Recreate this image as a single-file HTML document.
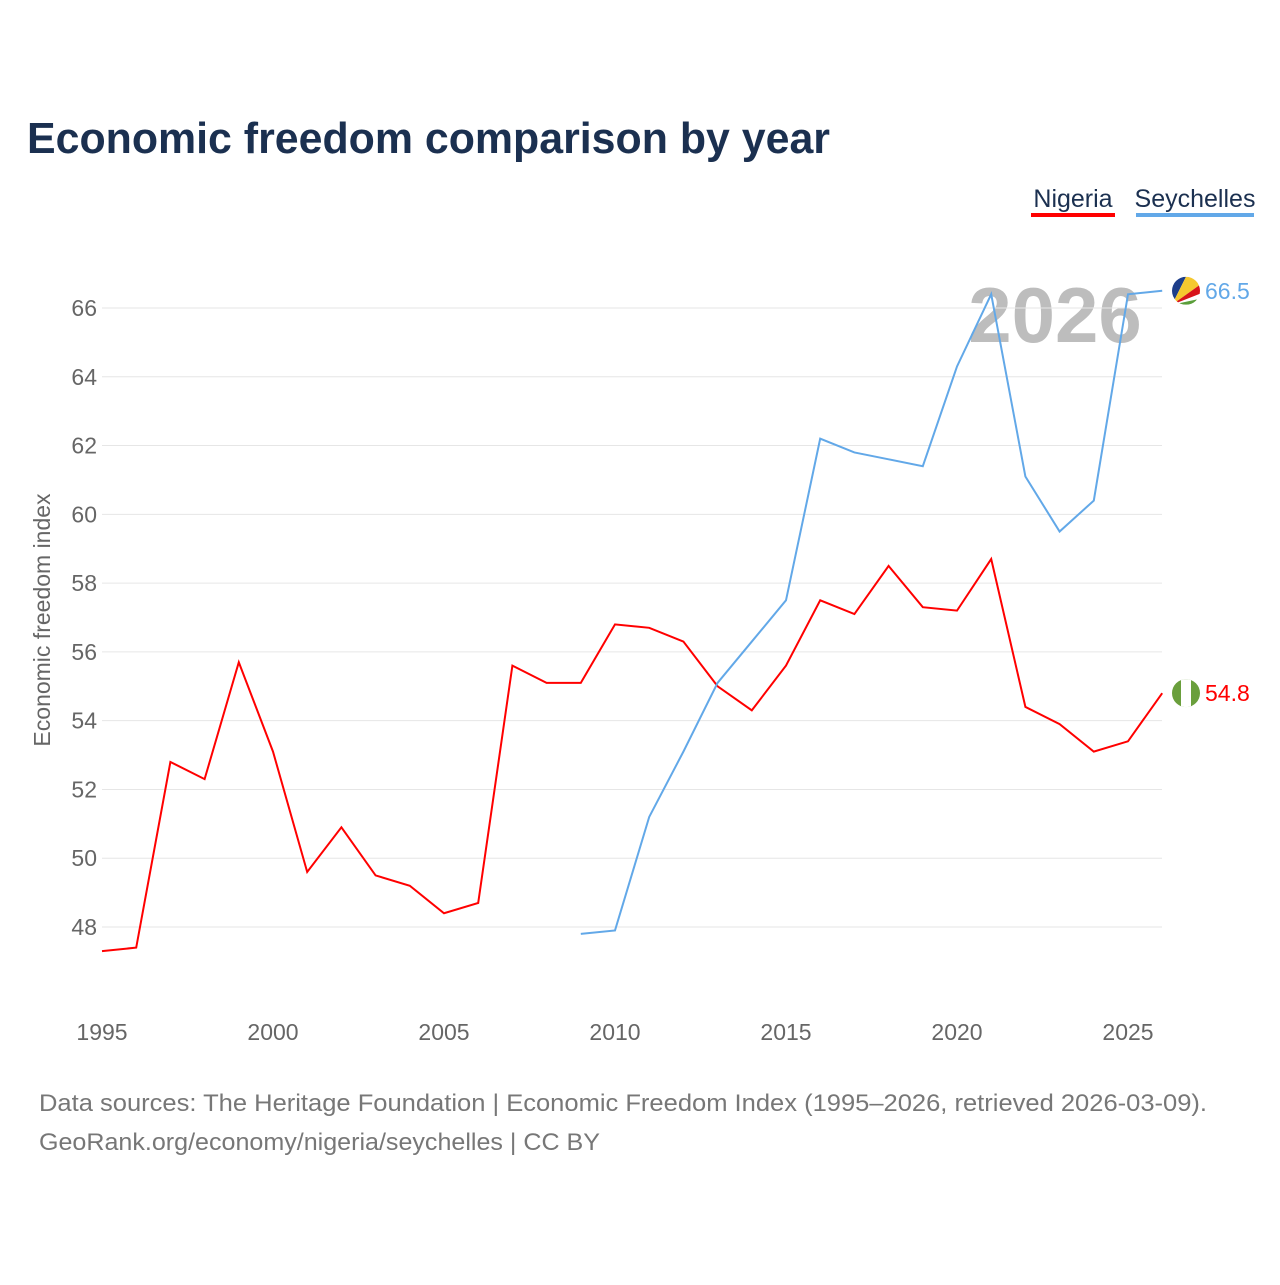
<!DOCTYPE html>
<html><head><meta charset="utf-8"><style>
body{margin:0;background:#fff;font-family:"Liberation Sans",sans-serif}
svg text{font-family:"Liberation Sans",sans-serif}
</style></head><body>
<svg id="chart" width="1280" height="1280" viewBox="0 0 1280 1280" xmlns="http://www.w3.org/2000/svg">
<defs id="defs"></defs>
<rect width="1280" height="1280" fill="#fff"/>
<text x="27" y="153" font-size="44" font-weight="bold" fill="#1b3050" textLength="803" lengthAdjust="spacingAndGlyphs">Economic freedom comparison by year</text>
<g><text x="1073" y="207" font-size="25" fill="#1b3050" text-anchor="middle">Nigeria</text><rect x="1031" y="213" width="84" height="4" fill="#ff0000"/></g>
<g><text x="1195" y="207" font-size="25" fill="#1b3050" text-anchor="middle">Seychelles</text><rect x="1136" y="213" width="118" height="4" fill="#62a8e8"/></g>
<text x="1055" y="342" font-size="78" font-weight="bold" fill="#bdbdbd" text-anchor="middle">2026</text>
<g id="grid"></g><g id="lines"></g>
<text transform="translate(50,620) rotate(-90)" font-size="23" fill="#666" text-anchor="middle">Economic freedom index</text>
<text x="39" y="1111" font-size="24" fill="#777" textLength="1168" lengthAdjust="spacingAndGlyphs">Data sources: The Heritage Foundation | Economic Freedom Index (1995–2026, retrieved 2026-03-09).</text>
<text x="39" y="1150" font-size="24" fill="#777" textLength="561" lengthAdjust="spacingAndGlyphs">GeoRank.org/economy/nigeria/seychelles | CC BY</text>
</svg>
<script>
const years=[1995,1996,1997,1998,1999,2000,2001,2002,2003,2004,2005,2006,2007,2008,2009,2010,2011,2012,2013,2014,2015,2016,2017,2018,2019,2020,2021,2022,2023,2024,2025,2026];
const nigeria=[47.3,47.4,52.8,52.3,55.7,53.1,49.6,50.9,49.5,49.2,48.4,48.7,55.6,55.1,55.1,56.8,56.7,56.3,55.0,54.3,55.6,57.5,57.1,58.5,57.3,57.2,58.7,54.4,53.9,53.1,53.4,54.8];
const seyYears=[2009,2010,2011,2012,2013,2014,2015,2016,2017,2018,2019,2020,2021,2022,2023,2024,2025,2026];
const seychelles=[47.8,47.9,51.2,53.1,55.1,56.3,57.5,62.2,61.8,61.6,61.4,64.3,66.4,61.1,59.5,60.4,66.4,66.5];
const yTicks=[48,50,52,54,56,58,60,62,64,66];
const xTicks=[1995,2000,2005,2010,2015,2020,2025];
const NS="http://www.w3.org/2000/svg";
const x=v=>102+(v-1995)*(1026/30);
const y=v=>308+(66-v)*(619/18);
const grid=document.getElementById('grid'),lines=document.getElementById('lines'),defs=document.getElementById('defs');
function mk(tag,attrs,parent){const e=document.createElementNS(NS,tag);for(const k in attrs)e.setAttribute(k,attrs[k]);parent.appendChild(e);return e;}
yTicks.forEach(t=>{
 const l=mk('line',{x1:102,x2:1162,y1:y(t),y2:y(t),stroke:'#e6e6e6','stroke-width':1},grid);
 
 
 const tx=mk('text',{x:97,y:y(t)+8,'font-size':23,fill:'#666','text-anchor':'end'},grid);tx.textContent=t;
 
 
});
xTicks.forEach(t=>{
 const tx=mk('text',{x:x(t),y:1040,'font-size':23,fill:'#666','text-anchor':'middle'},grid);tx.textContent=t;
 
 
});
function series(xs,vs,color,name,label,flag){
 const p=mk('polyline',{points:xs.map((yr,i)=>x(yr)+','+y(vs[i])).join(' '),fill:'none',stroke:color,'stroke-width':2},lines);
 
 
 const lv=vs[vs.length-1];
 const cy=y(lv);
 const cp=mk('clipPath',{id:'clip-'+name},defs);
 mk('circle',{cx:1186,cy:cy,r:14},cp);
 const g=mk('g',{'clip-path':'url(#clip-'+name+')'},lines);
 
 
 flag(g,cy);
 const t=mk('text',{x:1205,y:cy+8,'font-size':23,fill:color},lines);t.textContent=label;
 
 
}
function ngFlag(g,cy){
 mk('rect',{x:1172,y:cy-14,width:28,height:28,fill:'#6a9f3c'},g);
 mk('rect',{x:1181,y:cy-14,width:10,height:28,fill:'#fff'},g);
}
function scFlag(g,cy){
 mk('rect',{x:1172,y:cy-14,width:28,height:28,fill:'#fff'},g);
 const cx=1172,by=cy+14;
 mk('path',{d:`M${cx} ${by} L1172 ${cy-14} L1186 ${cy-14} Z`,fill:'#1d3e8a'},g);
 mk('path',{d:`M${cx} ${by} L1186 ${cy-14} L1200 ${cy-14} L1200 ${cy-6} Z`,fill:'#f5c82f'},g);
 mk('path',{d:`M${cx} ${by} L1200 ${cy-6} L1200 ${cy+3} Z`,fill:'#d7141a'},g);
 mk('path',{d:`M${cx} ${by} L1200 ${cy+8} L1200 ${by} Z`,fill:'#5a9e3a'},g);
}
series(years,nigeria,'#ff0000','nigeria',nigeria[nigeria.length-1].toFixed(1),ngFlag);
series(seyYears,seychelles,'#62a8e8','seychelles',seychelles[seychelles.length-1].toFixed(1),scFlag);
</script>
</body></html>
